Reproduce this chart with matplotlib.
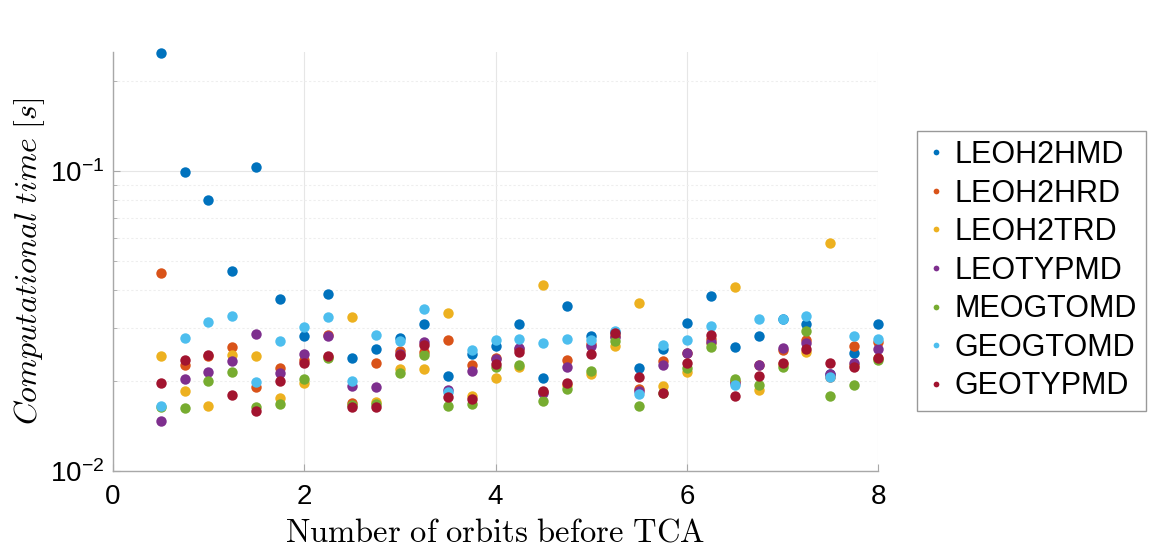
import numpy as np
import matplotlib.pyplot as plt
from matplotlib.ticker import LogLocator, NullFormatter

plt.rcParams['font.family'] = ['Liberation Sans', 'DejaVu Sans']
plt.rcParams['mathtext.fontset'] = 'cm'

# orbits before TCA
orbits = [0.5, 0.75, 1.0, 1.25, 1.5, 1.75, 2.0, 2.25, 2.5, 2.75, 3.0, 3.25, 3.5, 3.75, 4.0, 4.25,
          4.5, 4.75, 5.0, 5.25, 5.5, 5.75, 6.0, 6.25, 6.5, 6.75, 7.0, 7.25, 7.5, 7.75, 8.0]

# computational time [s] per test case
leoh2hmd = [0.247, 0.0995, 0.0799, 0.0464, 0.1028, 0.0374, 0.0282, 0.0388, 0.0239, 0.0255, 0.0278,
            0.0308, 0.0208, 0.0246, 0.0262, 0.0310, 0.0204, 0.0354, 0.0281, 0.0290, 0.0221, 0.0256,
            0.0311, 0.0383, 0.0260, 0.0283, 0.0322, 0.0310, 0.0210, 0.0248, 0.0308]
leoh2hrd = [0.0456, 0.0225, 0.0242, 0.0260, 0.0190, 0.0221, 0.0235, 0.0285, 0.0169, 0.0230, 0.0251,
            0.0249, 0.0273, 0.0225, 0.0238, 0.0255, 0.0183, 0.0235, 0.0265, 0.0283, 0.0188, 0.0232,
            0.0248, 0.0275, 0.0200, 0.0226, 0.0253, 0.0273, 0.0206, 0.0262, 0.0270]
leoh2trd = [0.0242, 0.0185, 0.0165, 0.0244, 0.0241, 0.0175, 0.0197, 0.0240, 0.0327, 0.0170, 0.0218,
            0.0218, 0.0336, 0.0178, 0.0205, 0.0222, 0.0416, 0.0193, 0.0210, 0.0262, 0.0362, 0.0192,
            0.0214, 0.0268, 0.0410, 0.0186, 0.0228, 0.0249, 0.0577, 0.0225, 0.0238]
leotypmd = [0.0147, 0.0202, 0.0214, 0.0233, 0.0287, 0.0212, 0.0246, 0.0281, 0.0192, 0.0191, 0.0246,
            0.0269, 0.0186, 0.0215, 0.0237, 0.0258, 0.0182, 0.0222, 0.0261, 0.0280, 0.0185, 0.0225,
            0.0248, 0.0269, 0.0197, 0.0226, 0.0257, 0.0268, 0.0211, 0.0230, 0.0255]
meogtomd = [0.0163, 0.0162, 0.0200, 0.0214, 0.0164, 0.0167, 0.0203, 0.0239, 0.0166, 0.0167, 0.0213,
            0.0243, 0.0165, 0.0167, 0.0223, 0.0226, 0.0171, 0.0188, 0.0215, 0.0271, 0.0165, 0.0182,
            0.0220, 0.0260, 0.0203, 0.0193, 0.0222, 0.0294, 0.0178, 0.0194, 0.0235]
geogtomd = [0.0165, 0.0278, 0.0313, 0.0329, 0.0198, 0.0271, 0.0302, 0.0327, 0.0199, 0.0284, 0.0271,
            0.0346, 0.0183, 0.0253, 0.0273, 0.0276, 0.0268, 0.0275, 0.0273, 0.0293, 0.0180, 0.0263,
            0.0273, 0.0305, 0.0194, 0.0320, 0.0320, 0.0328, 0.0206, 0.0281, 0.0275]
geotypmd = [0.0197, 0.0235, 0.0243, 0.0179, 0.0159, 0.0200, 0.0230, 0.0241, 0.0164, 0.0164, 0.0244,
            0.0264, 0.0177, 0.0174, 0.0227, 0.0249, 0.0185, 0.0196, 0.0245, 0.0288, 0.0206, 0.0182,
            0.0230, 0.0285, 0.0178, 0.0207, 0.0229, 0.0256, 0.0229, 0.0222, 0.0238]

names = ['LEOH2HMD', 'LEOH2HRD', 'LEOH2TRD', 'LEOTYPMD', 'MEOGTOMD', 'GEOGTOMD', 'GEOTYPMD']
series = [leoh2hmd, leoh2hrd, leoh2trd, leotypmd, meogtomd, geogtomd, geotypmd]
colors = ['#0072BD', '#D95319', '#EDB120', '#7E2F8E', '#77AC30', '#4DBEEE', '#A2142F']

fig = plt.figure(figsize=(11.51, 5.5), dpi=100)
ax = fig.add_axes([0.098, 0.1436, 0.665, 0.7624])

for name, vals, c in zip(names, series, colors):
    ax.plot(orbits, vals, 'o', color=c, markersize=7.5, markeredgewidth=0,
            label=name, clip_on=False, zorder=3)

ax.set_yscale('log')
ax.set_xlim(0, 8)
ax.set_ylim(0.01, 0.25)
ax.set_xticks([0, 2, 4, 6, 8])
ax.set_yticks([0.01, 0.1])
ax.set_yticklabels([r'$\mathdefault{10^{-2}}$', r'$\mathdefault{10^{-1}}$'])
ax.yaxis.set_minor_locator(LogLocator(base=10, subs=np.arange(2, 10)))
ax.yaxis.set_minor_formatter(NullFormatter())

ax.grid(True, which='major', color='#e6e6e6', linewidth=0.8)
ax.grid(True, which='minor', axis='y', color='#eeeeee', linewidth=0.8, linestyle=(0, (2, 2)))
ax.set_axisbelow(True)

for side in ['top', 'right']:
    ax.spines[side].set_visible(False)
for side in ['left', 'bottom']:
    ax.spines[side].set_color('#a8a8a8')
    ax.spines[side].set_linewidth(1.0)
ax.tick_params(which='both', direction='in', colors='#a8a8a8', labelcolor='black',
               labelsize=20, top=False, right=False)
ax.tick_params(which='major', length=5)
ax.tick_params(which='minor', length=3)
ax.tick_params(axis='x', pad=9)
ax.tick_params(axis='y', pad=6)

ax.set_xlabel(r'$\mathrm{Number\ of\ orbits\ before\ TCA}$', fontsize=23.5, labelpad=6)
ax.set_ylabel(r'$Computational\ time\ [s]$', fontsize=23, labelpad=2)

leg = ax.legend(loc='upper left', bbox_to_anchor=(0.797, 0.762), bbox_transform=fig.transFigure,
                fontsize=22, markerscale=0.55, handletextpad=0.3, handlelength=0.6,
                labelspacing=0.28, borderpad=0.3, borderaxespad=0, fancybox=False, framealpha=1)
leg.get_frame().set_edgecolor('#999999')
leg.get_frame().set_linewidth(1.0)

fig.savefig('out.png', dpi=100)
